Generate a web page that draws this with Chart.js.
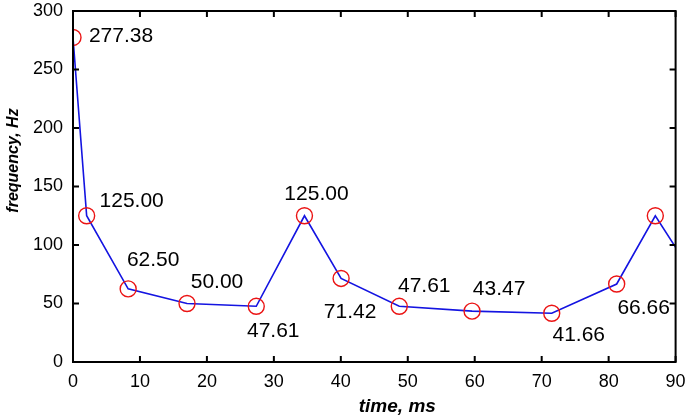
<!DOCTYPE html>
<html>
<head>
<meta charset="utf-8">
<script src="https://cdn.jsdelivr.net/npm/chart.js@4/dist/chart.umd.min.js"></script>
<style>
html,body{margin:0;padding:0;background:#fff;}
#wrap{width:685px;height:418px;position:relative;}
</style>
</head>
<body>
<div id="wrap"><canvas id="c" width="685" height="418"></canvas></div>
<script>
// ---- data ----
const timesMs = [0, 2.04, 8.24, 17.03, 27.37, 34.57, 40.04, 48.73, 59.6, 71.5, 81.2, 86.97, 90];
const freqHz  = [277.38, 125.00, 62.50, 50.00, 47.61, 125.00, 71.42, 47.61, 43.47, 41.66, 66.66, 125.00, 98];
const labelled = [true, true, true, true, true, true, true, true, true, true, true, false, false];
const xTicks = [0, 10, 20, 30, 40, 50, 60, 70, 80, 90];
const yTicks = [0, 50, 100, 150, 200, 250, 300];
const xTitle = 'time, ms';
const yTitle = 'frequency, Hz';

// label offsets (style only)
const labelDx = [48, 45, 25, 30, 17, 12, 9, 25, 27, 27, 27, 0, 0];
const labelDy = [-1, -15, -29, -21, 25, -22, 34, -20, -22, 22, 24, 0, 0];

const points = timesMs.map((t, i) => ({x: t, y: freqHz[i]}));
const FONT = "'Liberation Sans', Arial, sans-serif";

const framePlugin = {
  id: 'frame',
  afterDraw(chart) {
    const {ctx, chartArea: a, scales} = chart;
    const xs = scales.x, ys = scales.y;
    ctx.save();
    ctx.strokeStyle = '#000';
    ctx.lineWidth = 2;
    ctx.strokeRect(a.left, a.top, a.right - a.left, a.bottom - a.top);
    const L = 6;
    ctx.beginPath();
    xTicks.forEach(v => {
      const px = xs.getPixelForValue(v);
      ctx.moveTo(px, a.bottom); ctx.lineTo(px, a.bottom - L);
      ctx.moveTo(px, a.top); ctx.lineTo(px, a.top + L);
    });
    yTicks.forEach(v => {
      const py = ys.getPixelForValue(v);
      ctx.moveTo(a.left, py); ctx.lineTo(a.left + L, py);
      ctx.moveTo(a.right, py); ctx.lineTo(a.right - L, py);
    });
    ctx.stroke();

    // data labels
    const meta = chart.getDatasetMeta(0);
    ctx.fillStyle = '#000';
    ctx.font = '21px ' + FONT;
    ctx.textAlign = 'center';
    ctx.textBaseline = 'middle';
    meta.data.forEach((el, i) => {
      if (!labelled[i]) return;
      ctx.fillText(freqHz[i].toFixed(2), el.x + labelDx[i], el.y + labelDy[i]);
    });

    // axis titles
    ctx.font = 'italic bold 19px ' + FONT;
    ctx.fillText(xTitle, (a.left + a.right) / 2 + 23, 407);
    ctx.save();
    ctx.font = 'italic bold 16px ' + FONT;
    ctx.translate(14, (a.top + a.bottom) / 2 - 26);
    ctx.rotate(-Math.PI / 2);
    ctx.fillText(yTitle, 0, 0);
    ctx.restore();
    ctx.restore();
  }
};

new Chart(document.getElementById('c'), {
  type: 'scatter',
  data: {
    datasets: [{
      data: points,
      showLine: true,
      borderColor: 'rgb(20,20,225)',
      borderWidth: 1.6,
      tension: 0,
      pointRadius: points.map((p, i) => i < 12 ? 8 : 0),
      pointBorderColor: 'rgb(235,20,20)',
      pointBackgroundColor: 'rgba(0,0,0,0)',
      pointBorderWidth: 1.4
    }]
  },
  options: {
    responsive: false,
    animation: false,
    layout: {padding: {top: 11, right: 8, left: 0, bottom: 0}},
    plugins: {legend: {display: false}, tooltip: {enabled: false}},
    scales: {
      x: {
        type: 'linear', min: 0, max: 90,
        afterBuildTicks(s) { s.ticks = xTicks.map(v => ({value: v})); },
        afterFit(s) { s.height = 56; s.paddingLeft = 0; s.paddingRight = 0; },
        grid: {display: false, drawTicks: false},
        border: {display: false},
        ticks: {color: '#000', font: {size: 18, family: FONT}, padding: 9, maxRotation: 0}
      },
      y: {
        type: 'linear', min: 0, max: 300,
        afterBuildTicks(s) { s.ticks = yTicks.map(v => ({value: v})); },
        afterFit(s) { s.width = 73; s.paddingTop = 0; s.paddingBottom = 0; },
        grid: {display: false, drawTicks: false},
        border: {display: false},
        ticks: {color: '#000', font: {size: 18, family: FONT}, padding: 10}
      }
    }
  },
  plugins: [framePlugin]
});
</script>
</body>
</html>
